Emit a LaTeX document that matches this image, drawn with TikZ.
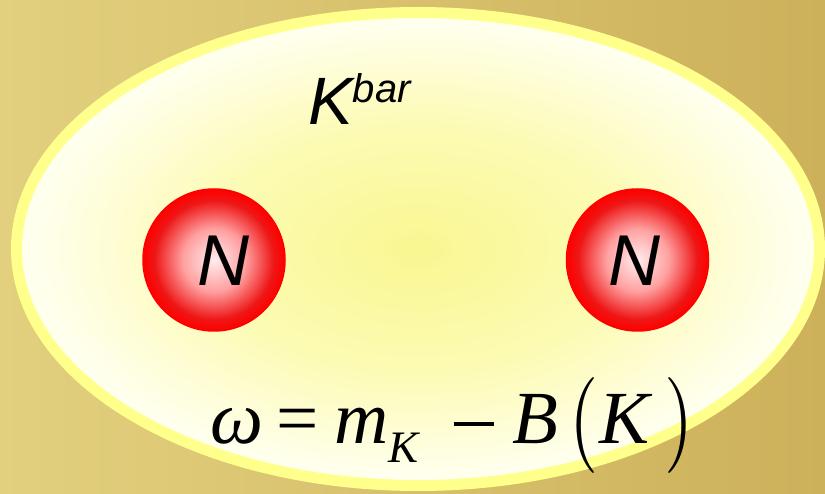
\documentclass[tikz,border=0pt]{standalone}
\usepackage{amsmath}
\usepackage{graphicx}
\usepackage{mathptmx}
\usepackage[no-math]{fontspec}
\newfontfamily\sansfam{Liberation Sans}
\newfontfamily\serfam{Liberation Serif}
\definecolor{bgl}{RGB}{226,208,126}
\definecolor{bgr}{RGB}{205,176,90}
\definecolor{rimyellow}{RGB}{255,255,140}
\definecolor{elc}{RGB}{249,247,145}
\definecolor{elm}{RGB}{252,251,180}
\definecolor{ele}{RGB}{255,255,238}
\definecolor{sphc}{RGB}{255,236,238}
\definecolor{sphm}{RGB}{255,160,160}
\definecolor{sphe}{RGB}{238,22,22}
\pgfdeclareradialshading{ellshade}{\pgfpoint{0bp}{0bp}}{color(0bp)=(elc); color(13bp)=(elm); color(24bp)=(ele); color(50bp)=(ele)}
\pgfdeclareradialshading{sphshade}{\pgfpoint{0bp}{0bp}}{color(0bp)=(sphc); color(11bp)=(sphm); color(21bp)=(sphe); color(25bp)=(red); color(50bp)=(red)}
\newcommand\putat[2]{\rlap{\hspace{#1pt}#2}}
\newcommand\tallparen[1]{\raisebox{-6pt}{\scalebox{1}[1.28]{#1}}}
\tikzset{
  sphere/.style={circle, minimum size=142pt, inner sep=0pt, draw=red, line width=1.5pt, shading=sphshade},
  nlabel/.style={font=\sansfam\itshape\fontsize{72}{72}\selectfont, inner sep=0pt, text=black},
}
\begin{document}
\begin{tikzpicture}[x=1pt,y=-1pt]
\useasboundingbox (0,0) rectangle (825,494);
\shade[left color=bgl, right color=bgr] (0,0) rectangle (825,494);
\path[shading=ellshade, draw=rimyellow, line width=11pt] (418,249) ellipse [x radius=401.5, y radius=236.5];
\node[sphere] (n1) at (214,260) {};
\node[sphere] (n2) at (637.5,260) {};
\node[nlabel] (l1) at (223,261) {N};
\node[nlabel] (l2) at (634,261) {N};
\node[anchor=base west, inner sep=0pt] (kbar) at (308,125)
  {\sansfam\itshape\fontsize{67}{70}\selectfont K\raisebox{22pt}{\fontsize{40}{44}\selectfont bar}};
\node[anchor=base west, inner sep=0pt, font=\serfam\fontsize{75}{80}\selectfont] (formula) at (210,443)
  {\putat{0}{\itshape ω}%
   \putat{66}{=}%
   \putat{124}{\itshape m}%
   \putat{178}{\raisebox{-19pt}{\fontsize{45}{48}\selectfont\itshape K}}%
   \putat{243}{\rule[17.5pt]{40pt}{3.2pt}}%
   \putat{302}{\itshape B}%
   \putat{359}{\tallparen{$\left(\vrule height 52pt depth 18pt width 0pt\right.$}}%
   \putat{389}{\itshape K}%
   \putat{453}{\tallparen{$\left.\vrule height 52pt depth 18pt width 0pt\right)$}}};
\end{tikzpicture}
\end{document}
